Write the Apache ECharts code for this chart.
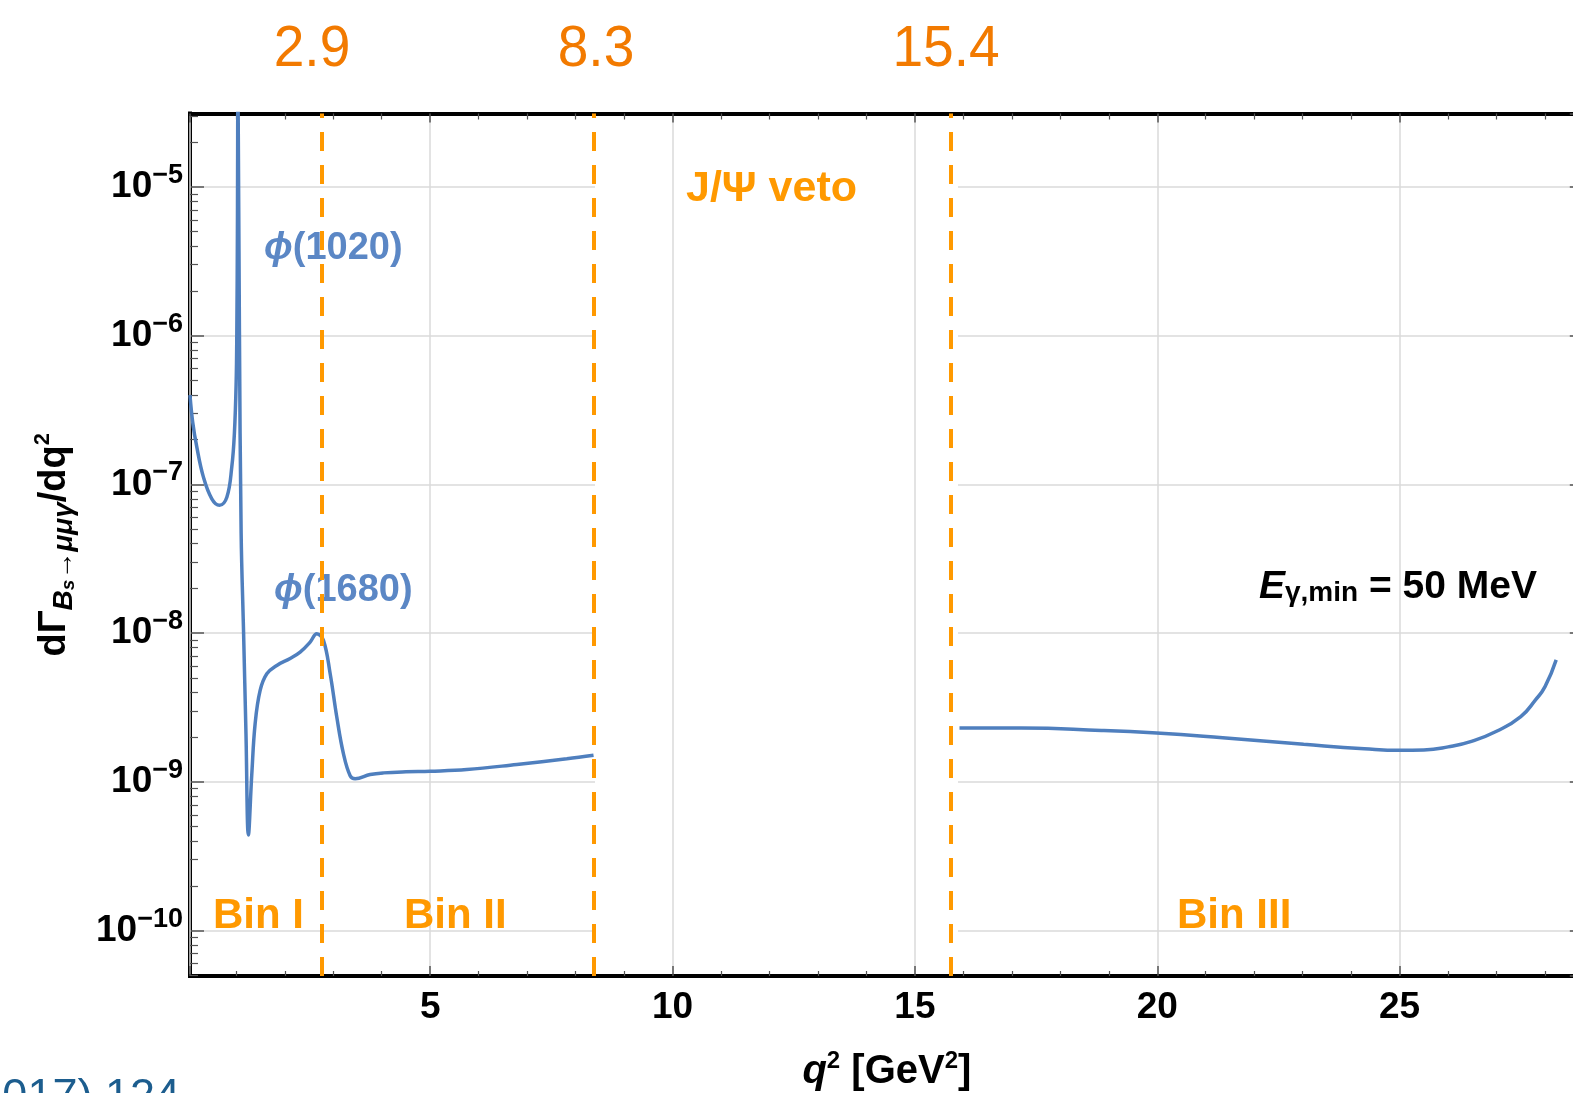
<!DOCTYPE html>
<html><head><meta charset="utf-8">
<script src="https://cdn.jsdelivr.net/npm/echarts@6/dist/echarts.min.js"></script>
<style>html,body{margin:0;padding:0;background:#fff;overflow:hidden}#c{width:1573px;height:1093px}</style>
</head><body><div id="c"></div>
<script>
// q^2 [GeV^2] and dGamma/dq^2
const q2Low = [0.045, 0.10, 0.186, 0.322, 0.495, 0.652, 0.805, 0.908, 0.961, 0.997, 1.011, 1.023, 1.035, 1.065, 1.10, 1.15, 1.20, 1.25, 1.32, 1.389, 1.492, 1.63, 1.836, 2.111, 2.317, 2.524, 2.661, 2.798, 2.936, 3.074, 3.21, 3.349, 3.452, 3.761, 4.036, 4.5, 5.0, 5.756, 6.788, 7.819, 8.37];
const rateLow = [3.98e-7, 2.63e-7, 1.78e-7, 1.12e-7, 8.0e-8, 7.24e-8, 8.2e-8, 1.32e-7, 2.21e-7, 4.8e-7, 1.05e-6, 4.9e-6, 5.0e-5, 1.05e-6, 4.7e-8, 1.02e-8, 2.1e-9, 4.4e-10, 1.13e-9, 2.47e-9, 4.12e-9, 5.33e-9, 6.07e-9, 6.76e-9, 7.46e-9, 8.71e-9, 9.93e-9, 8.95e-9, 5.36e-9, 2.72e-9, 1.55e-9, 1.10e-9, 1.05e-9, 1.12e-9, 1.15e-9, 1.17e-9, 1.18e-9, 1.21e-9, 1.31e-9, 1.43e-9, 1.51e-9];
const q2High = [15.92, 17.19, 18.85, 19.99, 21.35, 23.02, 24.27, 25.02, 25.5, 26.0, 26.5, 27.0, 27.5, 27.8, 28.0, 28.23];
const rateHigh = [2.30e-9, 2.30e-9, 2.22e-9, 2.13e-9, 1.98e-9, 1.79e-9, 1.67e-9, 1.63e-9, 1.64e-9, 1.72e-9, 1.88e-9, 2.19e-9, 2.75e-9, 3.55e-9, 4.37e-9, 6.61e-9];
const cutPositions = [2.765, 8.37, 15.73];
const cutLabels = ['2.9', '8.3', '15.4'];
const binLabels = ['Bin I', 'Bin II', 'Bin III'];
const vetoLabel = 'J/Ψ veto';
const resonanceLabels = ['(1020)', '(1680)'];
const xMin = 0.045, xMax = 28.8;
const yMinExp = -10.305, yMaxExp = -4.506;

const yMin = Math.pow(10, yMinExp), yMax = Math.pow(10, yMaxExp);
const minorVals = [];
for (let e = -11; e <= -5; e++) for (let m = 2; m <= 9; m++) { const v = m * Math.pow(10, e); if (v > yMin && v < yMax) minorVals.push(v); }

const FONT = '"Liberation Sans", Arial, Helvetica, sans-serif';
const ORANGE = '#FF9900';
const BLUE = '#4F7FBE';
const TICK = '#555';

const chart = echarts.init(document.getElementById('c'), null, {renderer: 'canvas'});
const frame = {show: true, lineStyle: {color: '#000', width: 4, cap: 'square'}};
const option = {
  backgroundColor: '#fff',
  animation: false,
  grid: {left: 190, top: 113.5, width: 1393.8, height: 862.5, containLabel: false, outerBoundsMode: 'none'},
  xAxis: [{
    type: 'value', position: 'bottom', min: xMin, max: xMax, z: 2,
    axisLine: frame,
    axisTick: {show: true, inside: true, length: 10, lineStyle: {color: TICK, width: 1.5}},
    minorTick: {show: true, splitNumber: 5, length: 5, lineStyle: {color: TICK, width: 1.2}},
    splitLine: {show: true, lineStyle: {color: '#dadada', width: 1.5}},
    axisLabel: {show: true, showMinLabel: false, showMaxLabel: false, margin: 13, color: '#000', fontFamily: FONT, fontWeight: 'bold', fontSize: 37},
    name: '{i|q}{sup|2}{m| [GeV}{sup|2}{m|]}', nameLocation: 'middle', nameGap: 73,
    nameTextStyle: {color: '#000', rich: {
      i: {fontFamily: FONT, fontWeight: 'bold', fontStyle: 'italic', fontSize: 40, lineHeight: 46, color: '#000'},
      m: {fontFamily: FONT, fontWeight: 'bold', fontSize: 40, lineHeight: 46, color: '#000'},
      sup: {fontFamily: FONT, fontWeight: 'bold', fontSize: 24, lineHeight: 20, verticalAlign: 'top', color: '#000'}
    }}
  }, {
    type: 'value', position: 'top', min: xMin, max: xMax, z: 2,
    axisLine: frame,
    axisTick: {show: true, inside: true, length: 9, lineStyle: {color: TICK, width: 1.5}},
    minorTick: {show: true, splitNumber: 5, length: 6, lineStyle: {color: TICK, width: 1.2}},
    splitLine: {show: false}, axisLabel: {show: false}
  }],
  yAxis: [{
    type: 'log', logBase: 10, position: 'left', min: yMin, max: yMax, splitNumber: 5, z: 0,
    axisLine: frame,
    axisTick: {show: true, inside: true, length: 14, lineStyle: {color: TICK, width: 1.5}},
    splitLine: {show: true, lineStyle: {color: '#dadada', width: 1.5}},
    axisLabel: {show: true, showMinLabel: false, showMaxLabel: false, margin: 7,
      formatter: v => { const e = Math.round(Math.log10(v)); return '{b|10}{s|−' + Math.abs(e) + '}'; },
      rich: {
        b: {fontFamily: FONT, fontWeight: 'bold', fontSize: 37, lineHeight: 50, color: '#000'},
        s: {fontFamily: FONT, fontWeight: 'bold', fontSize: 27, lineHeight: 27, verticalAlign: 'top', color: '#000'}
      }},
    name: '{m|dΓ}{sub|B}{ss|s}{sub|→μμγ}{m|/dq}{sup|2}', nameLocation: 'middle', nameRotate: 90, nameGap: 112,
    nameTextStyle: {rich: {
      m: {fontFamily: FONT, fontWeight: 'bold', fontSize: 38, lineHeight: 46, color: '#000'},
      sub: {fontFamily: FONT, fontWeight: 'bold', fontStyle: 'italic', fontSize: 28, lineHeight: 32, verticalAlign: 'bottom', color: '#000'},
      ss: {fontFamily: FONT, fontWeight: 'bold', fontStyle: 'italic', fontSize: 19, lineHeight: 10, verticalAlign: 'bottom', color: '#000'},
      sup: {fontFamily: FONT, fontWeight: 'bold', fontSize: 22, lineHeight: 2, verticalAlign: 'top', color: '#000'}
    }}
  }, {
    type: 'log', logBase: 10, position: 'left', min: yMin, max: yMax, z: 2,
    axisLine: {show: false}, axisLabel: {show: false}, splitLine: {show: false},
    axisTick: {show: true, inside: true, length: 8, customValues: minorVals, lineStyle: {color: TICK, width: 1.2}}
  }, {
    type: 'log', logBase: 10, position: 'right', min: yMin, max: yMax, splitNumber: 5, z: 2,
    axisLine: frame, axisLabel: {show: false}, splitLine: {show: false},
    axisTick: {show: true, inside: true, length: 14, lineStyle: {color: TICK, width: 1.5}}
  }],
  series: [{
    type: 'line', xAxisIndex: 0, yAxisIndex: 0, showSymbol: false, smooth: 0.4, clip: true,
    data: q2Low.map((q, i) => [q, rateLow[i]]),
    lineStyle: {color: BLUE, width: 3.5}, z: 3,
    markLine: {silent: true, symbol: ['none', 'none'], label: {show: false}, animation: false,
      lineStyle: {color: ORANGE, width: 4, type: [19, 14], opacity: 1},
      emphasis: {disabled: true},
      data: cutPositions.map(v => ({xAxis: v}))}
  }, {
    type: 'line', xAxisIndex: 0, yAxisIndex: 0, showSymbol: false, smooth: 0.5, clip: true,
    data: q2High.map((q, i) => [q, rateHigh[i]]),
    lineStyle: {color: BLUE, width: 3.5}, z: 3
  }],
  graphic: [
    // the veto window carries no horizontal grid lines in the original
    {type: 'rect', z: 1, silent: true, shape: {x: 595, y: 116, width: 363, height: 857}, style: {fill: '#fff'}},
    ...cutLabels.map((t, i) => ({type: 'text', x: [312, 596, 946][i], y: 50, scaleX: 0.95,
      style: {text: t, fill: '#F27A00', font: '58px ' + FONT, align: 'center', verticalAlign: 'middle'}})),
    {type: 'text', z: 4, x: 213, y: 916, style: {text: binLabels[0], fill: ORANGE, font: 'bold 42px ' + FONT, align: 'left', verticalAlign: 'middle'}},
    {type: 'text', z: 4, x: 404, y: 916, style: {text: binLabels[1], fill: ORANGE, font: 'bold 42px ' + FONT, align: 'left', verticalAlign: 'middle'}},
    {type: 'text', z: 4, x: 1177, y: 916, style: {text: binLabels[2], fill: ORANGE, font: 'bold 42px ' + FONT, align: 'left', verticalAlign: 'middle'}},
    {type: 'text', z: 4, x: 686, y: 189, style: {text: vetoLabel, fill: ORANGE, font: 'bold 43px ' + FONT, align: 'left', verticalAlign: 'middle'}},
    {type: 'text', z: 4, x: 264, y: 249, style: {text: '{i|ϕ}{n|' + resonanceLabels[0] + '}', align: 'left', verticalAlign: 'middle',
      rich: {i: {fontFamily: FONT, fontWeight: 'bold', fontStyle: 'italic', fontSize: 38, fill: '#5B87C5'}, n: {fontFamily: FONT, fontWeight: 'bold', fontSize: 38, fill: '#5B87C5'}}}},
    {type: 'text', z: 4, x: 274, y: 591, style: {text: '{i|ϕ}{n|' + resonanceLabels[1] + '}', align: 'left', verticalAlign: 'middle',
      rich: {i: {fontFamily: FONT, fontWeight: 'bold', fontStyle: 'italic', fontSize: 38, fill: '#5B87C5'}, n: {fontFamily: FONT, fontWeight: 'bold', fontSize: 38, fill: '#5B87C5'}}}},
    {type: 'text', z: 4, x: 1259, y: 587, style: {text: '{i|E}{sub|γ,min}{m| = 50 MeV}', align: 'left', verticalAlign: 'middle',
      rich: {
        i: {fontFamily: FONT, fontWeight: 'bold', fontStyle: 'italic', fontSize: 39, lineHeight: 40, fill: '#000'},
        sub: {fontFamily: FONT, fontWeight: 'bold', fontSize: 28, lineHeight: 12, verticalAlign: 'bottom', fill: '#000'},
        m: {fontFamily: FONT, fontWeight: 'bold', fontSize: 39, lineHeight: 40, fill: '#000'}
      }}},
    {type: 'text', x: 180, y: 1075, style: {text: '(2017) 124', fill: '#1C5D8E', font: '45px ' + FONT, align: 'right', verticalAlign: 'top'}}
  ]
};
chart.setOption(option);
</script></body></html>
